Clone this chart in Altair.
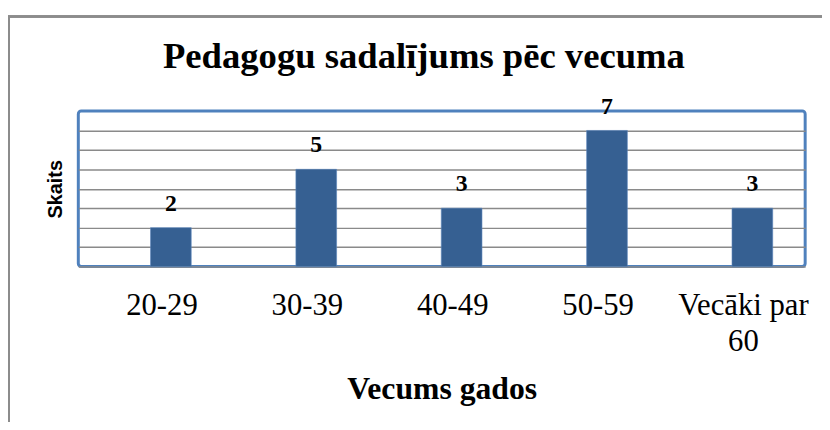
import altair as alt
import pandas as pd

categories = ["20-29", "30-39", "40-49", "50-59", "Vecāki par 60"]
values = [2, 5, 3, 7, 3]
grid_values = [0, 1, 2, 3, 4, 5, 6, 7]

df = pd.DataFrame({"vecums": categories, "skaits": values})

SERIF = "Liberation Serif"

x_enc = alt.X(
    "vecums:N",
    sort=categories,
    scale=alt.Scale(paddingInner=0.72, paddingOuter=0.36, align=0.69),
    axis=alt.Axis(
        title="Vecums gados",
        titleFont=SERIF,
        titleFontSize=32,
        titleFontWeight="bold",
        titleColor="#000000",
        titlePadding=17,
        labelFont=SERIF,
        labelFontSize=31,
        labelColor="#000000",
        labelAngle=0,
        labelPadding=24,
        labelOffset=-9,
        labelLineHeight=37,
        labelExpr="datum.label == 'Vecāki par 60' ? ['Vecāki par', '60'] : datum.label",
        ticks=False,
        domain=False,
        grid=False,
    ),
)

y_enc = alt.Y(
    "skaits:Q",
    scale=alt.Scale(domain=[0, 8], nice=False),
    axis=alt.Axis(
        title="Skaits",
        titleFont="Liberation Sans",
        titleFontSize=20,
        titleFontWeight="bold",
        titleColor="#000000",
        titlePadding=13,
        labels=False,
        ticks=False,
        domain=False,
        grid=True,
        values=grid_values,
        tickCount=8,
        gridColor="#8a8a8a",
        gridWidth=1.5,
    ),
)

base = alt.Chart(df)

bars = base.mark_bar(color="#366092", stroke="#5b85bb", strokeWidth=0.6).encode(x=x_enc, y=y_enc)

labels = base.mark_text(
    font=SERIF, fontSize=24, fontWeight="bold", color="#000000",
    baseline="alphabetic", dy=-17,
).encode(x=x_enc, y=y_enc, text="skaits:Q")

frame_left = base.mark_rule(color="#8c8c8c", strokeWidth=2).encode(
    x=alt.value(-70), y=alt.value(-96), y2=alt.value(400)
)
frame_top = base.mark_rule(color="#8c8c8c", strokeWidth=2).encode(
    x=alt.value(-71), x2=alt.value(760), y=alt.value(-95.5)
)

chart = (
    alt.layer(frame_left, frame_top, bars, labels)
    .properties(
        width=734,
        height=157,
        background="#ffffff",
        autosize=alt.AutoSizeParams(type="none"),
        padding={"left": 71, "top": 102, "right": 17, "bottom": 155},
        title=alt.TitleParams(
            "Pedagogu sadalījums pēc vecuma",
            font=SERIF,
            fontSize=37,
            fontWeight="bold",
            color="#000000",
            anchor="middle",
            baseline="alphabetic",
            offset=-90.5,
            dx=-18,
        ),
    )
    .configure_view(stroke="#4f81bd", strokeWidth=3, cornerRadius=3)
)

chart.save("out.html", embed_options={"renderer": "svg", "actions": False})
